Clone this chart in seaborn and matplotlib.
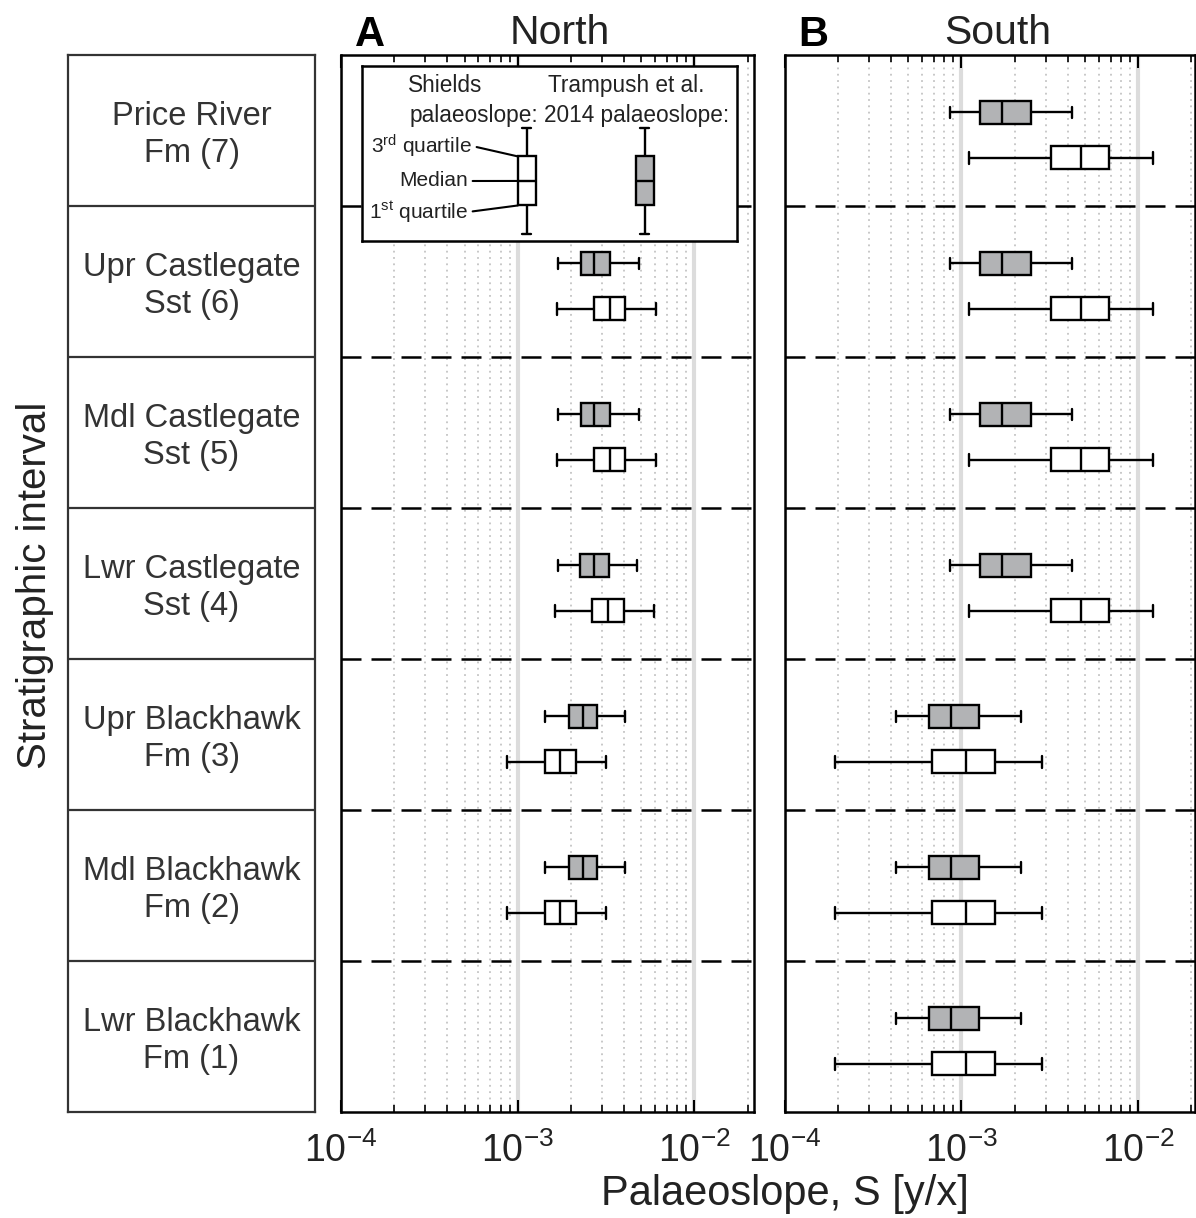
import numpy as np
import pandas as pd
import matplotlib
matplotlib.use("Agg")
import matplotlib.pyplot as plt
import seaborn as sns
from matplotlib.ticker import LogLocator, NullFormatter

# ---------------- data ----------------
intervals = ["Price River\nFm (7)", "Upr Castlegate\nSst (6)", "Mdl Castlegate\nSst (5)",
             "Lwr Castlegate\nSst (4)", "Upr Blackhawk\nFm (3)", "Mdl Blackhawk\nFm (2)",
             "Lwr Blackhawk\nFm (1)"]

# each summary: [min, 1st quartile, median, 3rd quartile, max]
north_rows = [1, 2, 3, 4, 5]
north_trampush = [[1.69e-3, 2.27e-3, 2.72e-3, 3.31e-3, 4.83e-3],
                  [1.69e-3, 2.27e-3, 2.72e-3, 3.31e-3, 4.83e-3],
                  [1.69e-3, 2.25e-3, 2.69e-3, 3.27e-3, 4.74e-3],
                  [1.42e-3, 1.95e-3, 2.34e-3, 2.81e-3, 4.07e-3],
                  [1.42e-3, 1.95e-3, 2.34e-3, 2.81e-3, 4.07e-3]]
north_shields = [[1.67e-3, 2.72e-3, 3.34e-3, 4.07e-3, 6.07e-3],
                 [1.67e-3, 2.72e-3, 3.34e-3, 4.07e-3, 6.07e-3],
                 [1.62e-3, 2.64e-3, 3.24e-3, 3.97e-3, 5.89e-3],
                 [8.70e-4, 1.42e-3, 1.74e-3, 2.13e-3, 3.17e-3],
                 [8.70e-4, 1.42e-3, 1.74e-3, 2.13e-3, 3.17e-3]]

south_rows = [0, 1, 2, 3, 4, 5, 6]
south_trampush = [[8.57e-4, 1.28e-3, 1.69e-3, 2.47e-3, 4.23e-3],
                  [8.57e-4, 1.28e-3, 1.69e-3, 2.47e-3, 4.23e-3],
                  [8.57e-4, 1.28e-3, 1.69e-3, 2.47e-3, 4.23e-3],
                  [8.57e-4, 1.28e-3, 1.69e-3, 2.47e-3, 4.23e-3],
                  [4.26e-4, 6.57e-4, 8.69e-4, 1.26e-3, 2.17e-3],
                  [4.26e-4, 6.57e-4, 8.69e-4, 1.26e-3, 2.17e-3],
                  [4.26e-4, 6.57e-4, 8.69e-4, 1.26e-3, 2.17e-3]]
south_shields = [[1.11e-3, 3.20e-3, 4.74e-3, 6.82e-3, 1.216e-2],
                 [1.11e-3, 3.20e-3, 4.74e-3, 6.82e-3, 1.216e-2],
                 [1.11e-3, 3.20e-3, 4.74e-3, 6.82e-3, 1.216e-2],
                 [1.11e-3, 3.20e-3, 4.74e-3, 6.82e-3, 1.216e-2],
                 [1.92e-4, 6.78e-4, 1.057e-3, 1.55e-3, 2.86e-3],
                 [1.92e-4, 6.78e-4, 1.057e-3, 1.55e-3, 2.86e-3],
                 [1.92e-4, 6.78e-4, 1.057e-3, 1.55e-3, 2.86e-3]]

legend_methods = ["Shields", "Trampush"]
legend_example = [0.0, 1.15, 2.15, 3.15, 4.3]

# ---------------- style ----------------
W, H, DPI = 1196, 1218, 100
GRAY = "#b2b3b5"
TXT = "#222222"

sns.set_theme(style="white")
plt.rcParams["font.family"] = ["Liberation Sans", "DejaVu Sans"]
plt.rcParams["mathtext.fontset"] = "custom"
plt.rcParams["mathtext.rm"] = "Liberation Sans"
plt.rcParams["mathtext.it"] = "Liberation Sans:italic"
plt.rcParams["mathtext.bf"] = "Liberation Sans:bold"
plt.rcParams["axes.edgecolor"] = "black"
plt.rcParams["text.color"] = TXT
plt.rcParams["xtick.color"] = "black"
plt.rcParams["xtick.labelcolor"] = TXT
TICK_SIZE = 27


def fx(x):
    return x / W


def fy(y):
    return 1 - y / H


def frame(rows, summaries, offset):
    recs = []
    for r, s in zip(rows, summaries):
        for v in s:
            recs.append({"value": v, "pos": r + offset})
    return pd.DataFrame(recs)


fig = plt.figure(figsize=(W / DPI, H / DPI), dpi=DPI)
TOP, BOT = 55, 1112

ax0 = fig.add_axes([fx(68), fy(BOT), (315 - 68) / W, (BOT - TOP) / H])
axA = fig.add_axes([fx(341), fy(BOT), (754 - 341) / W, (BOT - TOP) / H])
axB = fig.add_axes([fx(785), fy(BOT), (1195 - 785) / W, (BOT - TOP) / H])

# ---------------- left column ----------------
ax0.set_xlim(0, 1)
ax0.set_ylim(6.5, -0.5)
ax0.set_xticks([])
ax0.set_yticks([])
for i in range(6):
    ax0.axhline(i + 0.5, color="#333333", lw=1.6)
for i, lab in enumerate(intervals):
    ax0.text(0.5, i + 0.03, lab, ha="center", va="center", fontsize=23.5,
             color="#333333", linespacing=1.27)
for sp in ax0.spines.values():
    sp.set_color("#333333")
    sp.set_linewidth(1.6)


# ---------------- panels ----------------
def draw_panel(ax, rows, tramp, shields, xmax):
    for summ, off, col in ((tramp, -0.12, GRAY), (shields, 0.18, "white")):
        df = frame(rows, summ, off)
        sns.boxplot(data=df, x="value", y="pos", orient="h", native_scale=True,
                    log_scale=(True, False), whis=(0, 100), width=0.155,
                    color=col, saturation=1, linecolor="black", linewidth=1.7,
                    ax=ax)
    ax.set_xscale("log")
    ax.set_xlim(1e-4, xmax)
    ax.set_ylim(6.5, -0.5)
    ax.set_xlabel("")
    ax.set_ylabel("")
    ax.set_yticks([])
    for i in range(6):
        ax.axhline(i + 0.5, color="black", lw=1.8, ls=(0, (8, 4)), zorder=2)
    ax.xaxis.set_major_locator(LogLocator(base=10, numticks=10))
    ax.xaxis.set_minor_locator(LogLocator(base=10, subs=np.arange(2, 10), numticks=30))
    ax.xaxis.set_minor_formatter(NullFormatter())
    ax.tick_params(axis="x", which="both", direction="in", top=True, bottom=True)
    ax.tick_params(axis="x", which="major", length=9, width=1.5,
                   labelsize=TICK_SIZE, pad=15)
    ax.tick_params(axis="x", which="minor", length=5, width=1.2)
    ax.grid(which="major", axis="x", color="#dcdcdc", lw=3)
    ax.grid(which="minor", axis="x", color="#c4c4c4", lw=1.3, ls=(0, (1, 2.5)))
    ax.grid(which="major", axis="y", visible=False)
    ax.set_axisbelow(True)
    for sp in ax.spines.values():
        sp.set_color("black")
        sp.set_linewidth(1.8)
        sp.set_visible(True)


draw_panel(axA, north_rows, north_trampush, north_shields, 10 ** (-4 + 413 / 176.7))
draw_panel(axB, south_rows, south_trampush, south_shields, 10 ** (-4 + 410 / 176.5))

# ---------------- legend inset ----------------
axL = fig.add_axes([fx(362), fy(241), (737 - 362) / W, (241 - 66) / H], zorder=5)
axL.set_facecolor("white")
ldf = pd.DataFrame({"method": np.repeat(legend_methods, len(legend_example)),
                    "value": legend_example * len(legend_methods)})
sns.boxplot(data=ldf, x="method", y="value", hue="method", palette=["white", GRAY],
            whis=(0, 100), width=0.153, saturation=1, linecolor="black",
            linewidth=1.7, legend=False, ax=axL)
axL.set_xlim(-1.398, 1.780)
axL.set_ylim(-0.30, 6.84)
axL.set_xticks([])
axL.set_yticks([])
axL.set_xlabel("")
axL.set_ylabel("")
for sp in axL.spines.values():
    sp.set_color("black")
    sp.set_linewidth(1.8)
    sp.set_visible(True)

for txt, x, y in (("Shields", 408, 92), ("palaeoslope:", 410, 122),
                  ("Trampush et al.", 548, 92), ("2014 palaeoslope:", 544, 122)):
    axL.text(fx(x), fy(y), txt, transform=fig.transFigure, ha="left",
             va="baseline", fontsize=16.3, color=TXT)

half = 0.153 / 2
for lab, yv, (tx, ty) in ((r"3$^{\mathregular{rd}}$ quartile", legend_example[3], (472, 146)),
                          ("Median", legend_example[2], (468, 181)),
                          (r"1$^{\mathregular{st}}$ quartile", legend_example[1], (468, 212))):
    axL.annotate(lab, xy=(-half, yv), xycoords="data", xytext=(tx, H - ty),
                 textcoords="figure pixels", ha="right", va="center", fontsize=15,
                 color=TXT,
                 arrowprops=dict(arrowstyle="-", lw=1.5, color="black", shrinkA=1,
                                 shrinkB=0, relpos=(1, 0.5)))

# ---------------- titles & labels ----------------
fig.text(fx(560), fy(44), "North", ha="center", va="baseline", fontsize=29.5)
fig.text(fx(998), fy(44), "South", ha="center", va="baseline", fontsize=29.5)
fig.text(fx(370), fy(46), "A", ha="center", va="baseline", fontsize=30,
         fontweight="bold", color="black")
fig.text(fx(813), fy(46), "B", ha="center", va="baseline", fontsize=30,
         fontweight="bold", color="black")
fig.text(fx(35), fy(585), "Stratigraphic interval", rotation=90, ha="center",
         va="center", fontsize=29)
fig.text(fx(785), fy(1205), "Palaeoslope, S [y/x]", ha="center", va="baseline",
         fontsize=30)

fig.savefig("out.png", dpi=DPI)
